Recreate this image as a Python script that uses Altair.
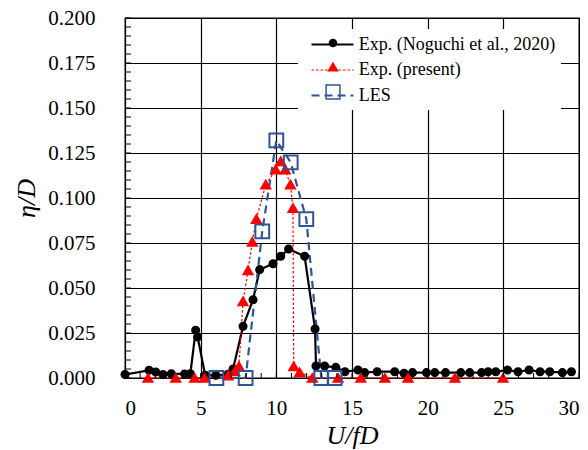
import altair as alt
import pandas as pd
import numpy as np

FONT = "Liberation Serif"
LFONT = "'Liberation Serif', 'Times New Roman', serif"

# --- data ---
nog_x = [0.0, 1.59, 2.03, 2.51, 3.06, 3.94, 4.32, 4.67, 4.80, 5.3, 6.0, 6.8, 7.14, 7.80, 8.46,
         8.90, 9.78, 10.29, 10.81, 11.87, 12.56, 12.62, 13.19, 13.93, 14.53, 15.40, 15.84, 16.66,
         17.82, 18.44, 19.00, 19.92, 20.47, 21.18, 22.19, 22.78, 23.56, 23.99, 24.50, 25.28,
         25.97, 26.70, 27.43, 28.07, 28.90, 29.50]
nog_y = [0.0019, 0.0043, 0.0033, 0.0019, 0.0024, 0.0022, 0.0024, 0.0265, 0.0228, 0.0015, 0.0015,
         0.0020, 0.0050, 0.0287, 0.0435, 0.0602, 0.0635, 0.0676, 0.0717, 0.0676, 0.0272, 0.0067,
         0.0067, 0.0059, 0.0035, 0.0044, 0.0030, 0.0035, 0.0035, 0.0026, 0.0030, 0.0030, 0.0030,
         0.0030, 0.0030, 0.0030, 0.0030, 0.0035, 0.0035, 0.0044, 0.0035, 0.0044, 0.0035, 0.0035,
         0.0030, 0.0035]

pres_x = [1.52, 3.35, 4.60, 5.26, 6.81, 7.25, 7.53, 7.80, 8.13, 8.41, 8.68, 9.30, 9.96, 10.29,
          10.59, 10.93, 11.10, 11.15, 11.54, 12.38, 14.08, 15.58, 17.17, 18.70, 21.80, 24.98]
pres_y = [0.0, 0.0, 0.0, 0.0, 0.0013, 0.0037, 0.0065, 0.0426, 0.0598, 0.0756, 0.0883, 0.1074,
          0.1157, 0.1204, 0.1157, 0.1074, 0.0944, 0.0065, 0.0031, 0.0, 0.0, 0.0, 0.0, 0.0, 0.0, 0.0]

les_x = [6.04, 7.97, 9.07, 10.0, 10.95, 11.98, 12.97, 13.85]
les_y = [0.0, 0.0, 0.0815, 0.132, 0.1198, 0.0883, 0.0, 0.0]

series_names = ["Exp. (Noguchi et al., 2020)", "Exp. (present)", "LES"]

x_ticks = [0, 5, 10, 15, 20, 25, 30]
y_ticks = [0.0, 0.025, 0.05, 0.075, 0.1, 0.125, 0.15, 0.175, 0.2]
x_minor = list(range(0, 31))
y_minor = [round(v, 3) for v in np.arange(0, 0.2001, 0.005)]

# --- tables ---
rows = []
for name, xs, ys in zip(series_names, [nog_x, pres_x, les_x], [nog_y, pres_y, les_y]):
    for i, (a, b) in enumerate(zip(xs, ys)):
        rows.append({"series": name, "series_p": name, "x": a, "y": b, "order": i})
df = pd.DataFrame(rows)

W, H = 454, 360
xscale = alt.Scale(domain=[0, 30], nice=False, zero=False)
yscale = alt.Scale(domain=[0, 0.2], nice=False)

colors = ["#000000", "#FF0000", "#2F5597"]

LX, LY = 173, 11
line_legend = alt.Legend(
    orient="none", legendX=LX, legendY=LY, title=None,
    symbolType="M-0.22,0H4.44", symbolSize=324, symbolStrokeWidth=2,
    labelFont=FONT, labelFontSize=18, labelOffset=34.7, labelColor="black",
    fillColor="white", padding=5, rowPadding=6, labelLimit=400,
)
pt_legend = alt.Legend(
    orient="none", legendX=LX + 21, legendY=LY, title=None, labelFont=FONT,
    labelFontSize=18, labelOpacity=0, padding=5, rowPadding=6, labelLimit=400,
)

xaxis = alt.Axis(values=x_ticks, title="U/fD", labelPadding=19, titlePadding=4,
                 grid=True, ticks=False, domain=False,
                 labelFont=LFONT, labelFontSize=21, labelFontStyle="normal",
                 labelFontWeight="normal")
yaxis = alt.Axis(values=y_ticks, format=".3f", title="η/D", labelPadding=30,
                 titlePadding=8, grid=True, ticks=False, domain=False,
                 labelFont=LFONT, labelFontSize=21, labelFontStyle="normal",
                 labelFontWeight="normal")

lines = alt.Chart(df).mark_line().encode(
    order="order:Q",
    stroke=alt.Stroke("series:N", scale=alt.Scale(domain=series_names, range=colors),
                      legend=line_legend),
    strokeDash=alt.StrokeDash("series:N", scale=alt.Scale(domain=series_names,
                              range=[[1, 0], [2.5, 2], [8, 5]]), legend=line_legend),
    strokeWidth=alt.StrokeWidth("series:N", scale=alt.Scale(type="ordinal", domain=series_names,
                                range=[2.2, 1.2, 2.2]), legend=line_legend),
)

points = alt.Chart(df).mark_point(filled=False, opacity=1, strokeWidth=2).encode(
    color=alt.Color("series_p:N", scale=alt.Scale(domain=series_names, range=colors),
                    legend=pt_legend),
    fill=alt.Fill("series_p:N", scale=alt.Scale(domain=series_names,
                  range=["#000000", "#FF0000", "transparent"]), legend=pt_legend),
    shape=alt.Shape("series_p:N", scale=alt.Scale(domain=series_names,
                    range=["circle", "triangle-up", "square"]), legend=pt_legend),
    size=alt.Size("series_p:N", scale=alt.Scale(type="ordinal", domain=series_names,
                  range=[50, 80, 190]), legend=pt_legend),
)

xt = alt.Chart(pd.DataFrame({"x": x_minor})).mark_rule(color="black", strokeWidth=1).encode(
    y=alt.value(H), y2=alt.value(H - 5))
yt = alt.Chart(pd.DataFrame({"y": y_minor})).mark_rule(color="black", strokeWidth=1).encode(
    x=alt.value(0), x2=alt.value(6))

chart = alt.layer(lines, points, xt, yt).encode(
    x=alt.X("x:Q", scale=xscale, axis=xaxis),
    y=alt.Y("y:Q", scale=yscale, axis=yaxis),
).resolve_scale(
    color="independent", fill="independent", shape="independent", size="independent"
).properties(
    width=W, height=H,
    autosize=alt.AutoSizeParams(type="none"),
    padding={"left": 117, "top": 10, "right": 1, "bottom": 74},
).configure(
    font=FONT,
    style={"guide-label": {"font": LFONT, "fontSize": 21}},
).configure_view(
    stroke="black", strokeWidth=1.3
).configure_axis(
    labelFont=LFONT, labelFontSize=21, labelColor="black",
    titleFont=FONT, titleFontSize=26, titleFontStyle="italic", titleFontWeight="normal",
    titleColor="black", gridColor="black", gridWidth=1.2, gridOpacity=1,
)

chart.save("out.html", embed_options={"renderer": "svg", "actions": False})
